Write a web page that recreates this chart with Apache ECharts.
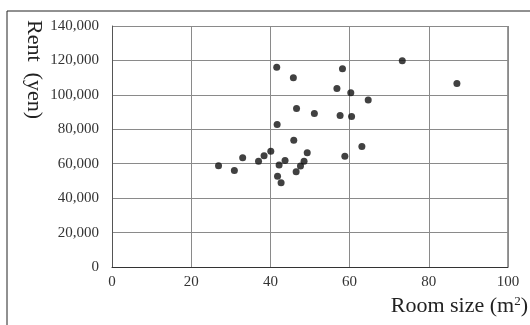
<!DOCTYPE html>
<html>
<head>
<meta charset="utf-8">
<script src="https://cdn.jsdelivr.net/npm/echarts@6/dist/echarts.min.js"></script>
<style>
  html, body { margin: 0; padding: 0; background: #fff; }
  #chart { width: 530px; height: 325px; }
</style>
</head>
<body>
<div id="chart"></div>
<script>
// room size (m2) and rent (yen)
var roomSize = [41.6, 45.8, 58.2, 56.8, 60.3, 64.7, 73.3, 87.1, 46.6, 51.1,
                57.6, 60.5, 41.7, 45.9, 63.1, 49.3, 58.8, 40.1, 26.9, 30.9,
                33.0, 37.0, 38.4, 42.2, 43.7, 41.8, 42.7, 46.5, 47.6, 48.5];
var rent = [116000, 110000, 115200, 103700, 101200, 97000, 119800, 106600, 92100, 89200,
            88000, 87400, 82800, 73700, 70000, 66300, 64400, 67300, 58800, 56000,
            63400, 61500, 64600, 59300, 61800, 52700, 49000, 55300, 58600, 61500];
var xTicks = [0, 100, 20];
var yTicks = [0, 140000, 20000];

var serif = "Liberation Serif";
var points = roomSize.map(function (x, i) { return [x, rent[i]]; });

var option = {
  animation: false,
  backgroundColor: "#fff",
  textStyle: { fontFamily: serif },
  grid: { left: 112, right: 22, top: 26, bottom: 58 },
  xAxis: {
    type: "value",
    min: xTicks[0], max: xTicks[1], interval: xTicks[2],
    axisLine: { lineStyle: { color: "#333", width: 1 } },
    axisTick: { show: false },
    axisLabel: { color: "#333", fontSize: 15, fontFamily: serif, margin: 8 },
    splitLine: { lineStyle: { color: "#8a8a8a", width: 1 } }
  },
  yAxis: {
    type: "value",
    min: yTicks[0], max: yTicks[1], interval: yTicks[2],
    axisLine: { show: true, lineStyle: { color: "#555", width: 1 } },
    axisTick: { show: false },
    axisLabel: {
      color: "#333", fontSize: 15, fontFamily: serif, margin: 13,
      formatter: function (v) { return v.toLocaleString("en-US"); }
    },
    splitLine: { lineStyle: { color: "#8a8a8a", width: 1 } }
  },
  graphic: [
    {
      type: "rect", silent: true,
      shape: { x: 7, y: 11, width: 600, height: 400 },
      style: { fill: "none", stroke: "#222", lineWidth: 1 }
    },
    {
      type: "line", silent: true,
      shape: { x1: 508, y1: 26, x2: 508, y2: 267 },
      style: { stroke: "#999", lineWidth: 2 }
    },
    {
      type: "text", silent: true,
      x: 34, y: 20, rotation: -Math.PI / 2,
      style: {
        text: "Rent  (yen)", fill: "#222", fontSize: 22, fontFamily: serif,
        align: "left", verticalAlign: "middle"
      }
    },
    {
      type: "text", silent: true,
      x: 528, y: 306,
      style: {
        text: "{a|Room size (m}{s|2}{a|)}",
        align: "right", verticalAlign: "middle",
        fill: "#222", fontFamily: serif,
        rich: {
          a: { fontSize: 22, fontFamily: serif, fill: "#222" },
          s: { fontSize: 13, fontFamily: serif, fill: "#222", verticalAlign: "top" }
        }
      }
    }
  ],
  series: [{
    type: "scatter",
    data: points,
    symbolSize: 7,
    itemStyle: { color: "#111" }
  }]
};

var chart = echarts.init(document.getElementById("chart"));
chart.setOption(option);
</script>
</body>
</html>
